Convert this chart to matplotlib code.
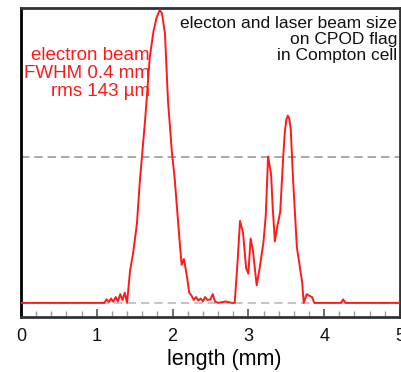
import matplotlib
matplotlib.use('Agg')
import matplotlib.pyplot as plt
from matplotlib.ticker import MultipleLocator

# beam profile (length in mm, normalised intensity)
length = [0.00, 1.10, 1.13, 1.16, 1.19, 1.22, 1.25, 1.28, 1.31, 1.34, 1.37,
          1.40, 1.44, 1.48, 1.53, 1.57, 1.64, 1.70, 1.75, 1.79, 1.83, 1.86,
          1.90, 1.94, 1.99, 2.03, 2.06, 2.10, 2.12, 2.15, 2.17, 2.19, 2.22,
          2.25, 2.28, 2.31, 2.34, 2.37, 2.40, 2.43, 2.46, 2.50, 2.53, 2.56,
          2.60, 2.70, 2.78, 2.82, 2.86, 2.89, 2.93, 2.97, 3.00, 3.03, 3.06,
          3.11, 3.15, 3.20, 3.23, 3.26, 3.28, 3.30, 3.32, 3.35, 3.38, 3.42,
          3.46, 3.48, 3.50, 3.52, 3.54, 3.56, 3.59, 3.64, 3.71, 3.73, 3.77,
          3.80, 3.84, 3.87, 4.22, 4.25, 4.28, 5.00]
signal = [0.000, 0.000, 0.012, 0.003, 0.015, 0.004, 0.020, 0.005, 0.030, 0.010, 0.035,
          0.000, 0.110, 0.170, 0.270, 0.420, 0.630, 0.840, 0.930, 0.975, 1.000, 0.990,
          0.920, 0.690, 0.520, 0.420, 0.320, 0.190, 0.130, 0.150, 0.120, 0.090, 0.035,
          0.025, 0.010, 0.020, 0.008, 0.015, 0.005, 0.020, 0.010, 0.012, 0.030, 0.005,
          0.000, 0.005, 0.000, 0.000, 0.150, 0.280, 0.240, 0.120, 0.100, 0.220, 0.180,
          0.060, 0.120, 0.210, 0.300, 0.500, 0.470, 0.440, 0.330, 0.210, 0.260, 0.310,
          0.500, 0.580, 0.625, 0.640, 0.630, 0.590, 0.420, 0.190, 0.070, 0.000, 0.030,
          0.025, 0.020, 0.000, 0.000, 0.012, 0.000, 0.000]

plt.rcParams['font.family'] = ['Liberation Sans', 'DejaVu Sans']

fig = plt.figure(figsize=(4.02, 3.72), dpi=100)
ax = fig.add_axes([0.052, 0.148, 0.943, 0.830])

# reference levels: baseline and half maximum
ax.axhline(0.5, color='#999999', lw=1.2, ls=(0, (5, 3)), zorder=1)
ax.axhline(0.0, color='#bbbbbb', lw=1.2, ls=(0, (5, 3)), zorder=1)
ax.plot(length, signal, color='#ff1a1a', lw=1.4, zorder=3)

ax.set_xlim(0, 5)
ax.set_ylim(-0.048, 1.007)
ax.xaxis.set_major_locator(MultipleLocator(1))
ax.xaxis.set_minor_locator(MultipleLocator(0.2))
ax.tick_params(axis='x', which='major', direction='in', length=6, width=1.2,
               color='#555555', labelsize=13, labelcolor='#111111', pad=8)
ax.tick_params(axis='x', which='minor', direction='in', length=4, width=1,
               color='#999999')
ax.set_yticks([])
for side in ['left', 'right', 'top', 'bottom']:
    ax.spines[side].set_linewidth(2)
    ax.spines[side].set_color('#333333')
ax.spines['left'].set_color('#000000')
ax.set_xlabel('length (mm)', fontsize=15.5)
ax.xaxis.set_label_coords(0.537, -0.103, transform=ax.transAxes)
ax.xaxis.label.set_va('top')

ax.text(0.34, 0.875, 'electron beam\nFWHM 0.4 mm\nrms 143 µm', transform=ax.transAxes,
        ha='right', va='top', color='#ff1a1a', fontsize=13.5, linespacing=1.1)
ax.text(0.992, 0.975, 'electon and laser beam size\non CPOD flag\nin Compton cell',
        transform=ax.transAxes, ha='right', va='top', color='#111111',
        fontsize=12.5, linespacing=1.1)

fig.savefig('out.png', dpi=100)
